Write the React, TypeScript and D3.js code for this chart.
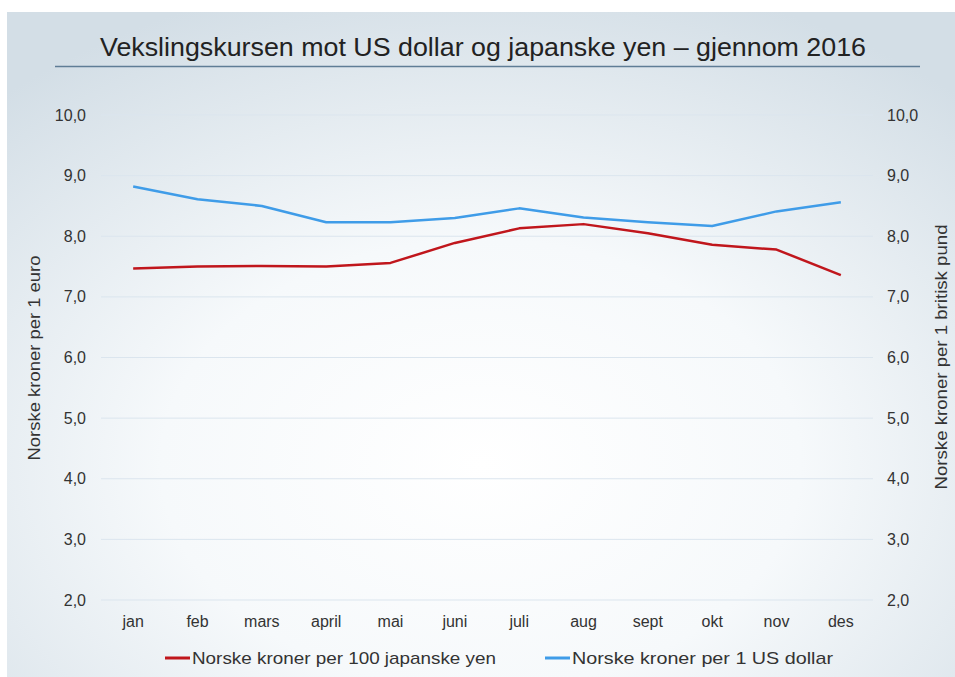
import React from 'react';
import * as d3 from 'd3';

const months = ['jan', 'feb', 'mars', 'april', 'mai', 'juni', 'juli', 'aug', 'sept', 'okt', 'nov', 'des'];
const yenValues = [7.47, 7.5, 7.51, 7.5, 7.56, 7.89, 8.13, 8.2, 8.05, 7.86, 7.78, 7.36];
const dollarValues = [8.82, 8.61, 8.5, 8.23, 8.23, 8.3, 8.46, 8.31, 8.23, 8.17, 8.41, 8.56];
const yTicks = [2, 3, 4, 5, 6, 7, 8, 9, 10];

const series = [
  { name: 'Norske kroner per 100 japanske yen', values: yenValues, color: '#c0161c' },
  { name: 'Norske kroner per 1 US dollar', values: dollarValues, color: '#3f9ce8' },
];

const W = 955;
const H = 677;
const left = 101;
const right = 873;
const top = 115;
const bottom = 600;
const font = 'Liberation Sans, Arial, sans-serif';

const App = () => {
  const x = d3.scaleBand().domain(months).range([left, right]);
  const y = d3.scaleLinear().domain([2, 10]).range([bottom, top]);
  const fmt = (v: number) => d3.format('.1f')(v).replace('.', ',');
  const line = d3
    .line<number>()
    .x((_, i) => (x(months[i]) as number) + x.bandwidth() / 2)
    .y((d) => y(d));

  // legend placement and text widths as in the picture
  const legendX = [165, 545];
  const legendLen = [304, 261];

  return (
    <svg width={W} height={H} style={{ position: 'absolute', left: 0, top: 0 }} fontFamily={font}>
      <defs>
        <radialGradient id="bg" cx="0.5" cy="0.68" r="0.75">
          <stop offset="0" stopColor="#ffffff" />
          <stop offset="0.45" stopColor="#f6f9fb" />
          <stop offset="1" stopColor="#d3dee6" />
        </radialGradient>
      </defs>
      <rect width={W} height={H} fill="#fff" />
      <rect x={7} y={12} width={W - 7} height={H - 12} fill="url(#bg)" />

      <text x={483} y={56} textAnchor="middle" fontSize={25} fill="#222" textLength={766} lengthAdjust="spacingAndGlyphs">
        Vekslingskursen mot US dollar og japanske yen – gjennom 2016
      </text>
      <line x1={55} x2={920} y1={66.5} y2={66.5} stroke="#5f7d96" strokeWidth={1.5} />

      {yTicks.map((t) => (
        <g key={t}>
          <line x1={left} x2={right} y1={y(t)} y2={y(t)} stroke="#dbe5ee" strokeWidth={1} />
          <text x={86} y={y(t)} dy="0.35em" textAnchor="end" fontSize={16} fill="#333">
            {fmt(t)}
          </text>
          <text x={887} y={y(t)} dy="0.35em" textAnchor="start" fontSize={16} fill="#333">
            {fmt(t)}
          </text>
        </g>
      ))}

      {months.map((m) => (
        <text key={m} x={(x(m) as number) + x.bandwidth() / 2} y={627} textAnchor="middle" fontSize={16} fill="#333">
          {m}
        </text>
      ))}

      <text transform={`translate(40,358) rotate(-90)`} textAnchor="middle" fontSize={16} fill="#333" textLength={205} lengthAdjust="spacingAndGlyphs">
        Norske kroner per 1 euro
      </text>
      <text transform={`translate(947,357) rotate(-90)`} textAnchor="middle" fontSize={16} fill="#333" textLength={265} lengthAdjust="spacingAndGlyphs">
        Norske kroner per 1 britisk pund
      </text>

      {series.map((s) => (
        <path key={s.name} d={line(s.values) as string} fill="none" stroke={s.color} strokeWidth={2.5} strokeLinejoin="round" />
      ))}

      {series.map((s, i) => (
        <g key={s.name} transform={`translate(${legendX[i]},658)`}>
          <line x1={0} x2={25} y1={0} y2={0} stroke={s.color} strokeWidth={3} />
          <text x={27} y={0} dy="0.35em" fontSize={17} fill="#333" textLength={legendLen[i]} lengthAdjust="spacingAndGlyphs">
            {s.name}
          </text>
        </g>
      ))}
    </svg>
  );
};

export default App;
